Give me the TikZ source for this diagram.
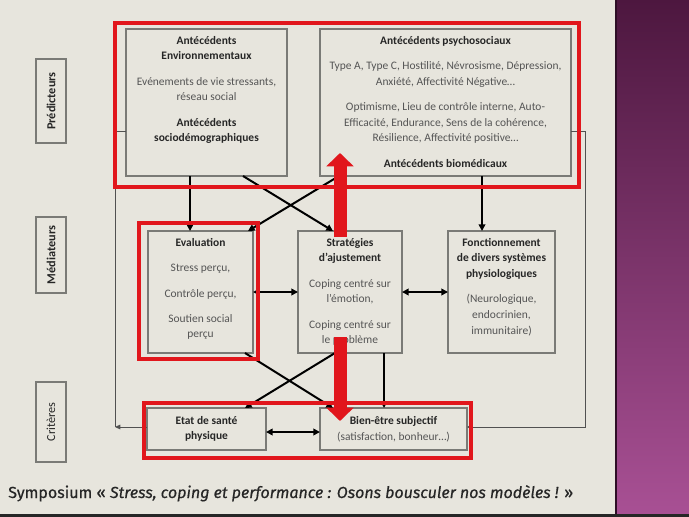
\documentclass[tikz,border=0pt]{standalone}
\usepackage{fontspec}
\setmainfont{Carlito}
\newfontfamily\capfont[FakeBold=0.6]{Fira Sans}
\usetikzlibrary{arrows.meta,calc,positioning}

\newlength\pxu
\setlength\pxu{0.75pt}
\definecolor{bgcol}{HTML}{E7E5DD}
\definecolor{boxgrey}{HTML}{7A7A76}
\definecolor{headcol}{HTML}{262626}
\definecolor{bodycol}{HTML}{555555}
\definecolor{redc}{HTML}{E1161C}
\definecolor{purpletop}{HTML}{4D173F}
\definecolor{purplebot}{HTML}{A85094}

\newcommand{\hd}[1]{{\bfseries\color{headcol}#1}}
\newcommand{\bd}[1]{{\color{bodycol}#1}}
\newcommand{\pgap}{7.3pt}
\newcommand{\boxtxt}[3]{\parbox[c][#2\pxu][t]{#1\pxu}{\centering\vspace*{5.5pt}#3}}

\tikzset{
  box/.style={draw=boxgrey, line width=0.8pt, fill=bgcol, inner sep=0pt, outer sep=0pt,
    font=\fontsize{8.6}{11.7}\selectfont},
  flatbox/.style={box, align=center, minimum height=42\pxu},
  side/.style={draw=boxgrey, line width=0.8pt, rotate=90, minimum height=30\pxu, inner sep=0pt,
    font=\fontsize{9.2}{11}\selectfont\bfseries, text=headcol},
  arr/.style={line width=1.5pt, -{Triangle[length=5pt,width=5pt]}},
  dbl/.style={line width=1.5pt, {Triangle[length=5pt,width=5pt]}-{Triangle[length=5pt,width=5pt]}},
  frameline/.style={draw=headcol!80, line width=0.7pt},
  redframe/.style={draw=redc, line width=3pt},
  bigarrow/.style={draw=redc, line width=9.75pt, -{Triangle[length=10pt,width=20pt,fill=redc]}}
}

\begin{document}
\begin{tikzpicture}[x=0.75pt, y=-0.75pt]
    \useasboundingbox (0,0) rectangle (689,517);
    % Slide background
    \fill [bgcol] (0,0) rectangle (689,517);
    \shade [top color=purpletop, bottom color=purplebot] (616,0) rectangle (689,514);
    \draw [purpletop!60!black, line width=1pt] (616,0) -- (616,514);
    \fill [black!85] (0,514) rectangle (689,517);

    % Row labels
    \node [side, minimum width=84\pxu]  (pred)  at (51,101)  {Prédicteurs};
    \node [side, minimum width=76\pxu]  (med)   at (51,255)  {Médiateurs};
    \node [side, minimum width=80\pxu, font=\fontsize{9.2}{11}\selectfont] (crit) at (51,422) {Critères};

    % Nodes {env, psy, eval, strat, fonct, etat, bien}
    \node [box] (env) at (206.5,102.5) {\boxtxt{161}{147}{%
        \hd{Antécédents}\\\hd{Environnementaux}\\[\pgap]
        \bd{Evénements de vie stressants,}\\\bd{réseau social}\\[\pgap]
        \hd{Antécédents}\\\hd{sociodémographiques}}};
    \node [box] (psy) at (445.5,102.5) {\boxtxt{251}{147}{%
        \hd{Antécédents psychosociaux}\\[\pgap]
        \bd{Type A, Type C, Hostilité, Névrosisme, Dépression,}\\\bd{Anxiété, Affectivité Négative…}\\[\pgap]
        \bd{Optimisme, Lieu de contrôle interne, Auto-}\\\bd{Efficacité, Endurance, Sens de la cohérence,}\\\bd{Résilience, Affectivité positive…}\\[\pgap]
        \hd{Antécédents biomédicaux}}};
    \node [box] (eval) at (200.5,292) {\boxtxt{105}{122}{%
        \hd{Evaluation}\\[\pgap]
        \bd{Stress perçu,}\\[\pgap]
        \bd{Contrôle perçu,}\\[\pgap]
        \bd{Soutien social}\\\bd{perçu}}};
    \node [box] (strat) at (350,292) {\boxtxt{104}{122}{%
        \hd{Stratégies}\\\hd{d’ajustement}\\[\pgap]
        \bd{Coping centré sur}\\\bd{l’émotion,}\\[\pgap]
        \bd{Coping centré sur}\\\bd{le problème}}};
    \node [box] (fonct) at (501.5,292) {\boxtxt{107}{122}{%
        \hd{Fonctionnement}\\\hd{de divers systèmes}\\\hd{physiologiques}\\[\pgap]
        \bd{(Neurologique,}\\\bd{endocrinien,}\\\bd{immunitaire)}}};
    \node [flatbox, minimum width=119\pxu] (etat) at (206.5,429) {\hd{Etat de santé}\\\hd{physique}};
    \node [flatbox, minimum width=147\pxu] (bien) at (393.5,429) {\hd{Bien-être subjectif}\\\bd{(satisfaction, bonheur…)}};

    % Outer feedback lines
    \coordinate (lt) at (115,131);
    \coordinate (lb) at (115,427);
    \coordinate (rt) at (585,131);
    \coordinate (rb) at (585,427);
    \draw [frameline] (env.west |- lt) -- (lt) -- (lb);
    \draw [frameline, -{Triangle[length=4pt,width=3.5pt]}] (etat.west |- lb) -- (lb);
    \draw [frameline, -{Triangle[length=3pt,width=3pt]}] (psy.east |- rt) -- (rt) -- (rb) -- (bien.east |- rb);

    % Paths
    \coordinate (a1) at ($(env.south)+(-16.5,0)$);
    \coordinate (a2) at ($(psy.south)+(36.5,0)$);
    \coordinate (a3) at ($(strat.south)+(34,0)$);
    \draw [arr] (a1) -- (a1 |- eval.north);
    \draw [arr] (a2) -- (a2 |- fonct.north);
    \draw [arr] ($(env.south)+(36.5,0)$) -- ($(strat.north)+(-17,0)$);
    \draw [arr] ($(psy.south)+(-106.5,0)$) -- ($(eval.north)+(47.5,0)$);
    \draw [dbl] (eval.east) -- (strat.west);
    \draw [dbl] (strat.east) -- (fonct.west);
    \draw [arr] ($(eval.south)+(44.5,0)$) -- ($(bien.north)+(-60.5,0)$);
    \draw [arr] ($(strat.south)+(-15,0)$) -- ($(etat.north)+(38.5,0)$);
    \draw [arr] (a3) -- (a3 |- bien.north);
    \draw [dbl] ($(etat.east)+(0,3)$) -- ($(bien.west)+(0,3)$);

    % Highlights
    \draw [redframe] (115,23) rectangle (579,187);
    \draw [redframe] (139,223) rectangle (258,359);
    \draw [redframe] (144,403) rectangle (471,458);
    \draw [bigarrow] ($(strat.north)+(-10,6)$) -- ($(psy.south)+(-105.5,-23)$);
    \draw [bigarrow] ($(strat.south)+(-10,-16)$) -- ($(bien.north)+(-53.5,13)$);

    % Caption
    \node [anchor=base west, inner sep=0pt, text=headcol, font=\capfont\fontsize{12}{14}\selectfont] (caption)
        at (8,498) {Symposium « \textit{Stress, coping et performance : Osons bousculer nos modèles !} »};
\end{tikzpicture}
\end{document}
